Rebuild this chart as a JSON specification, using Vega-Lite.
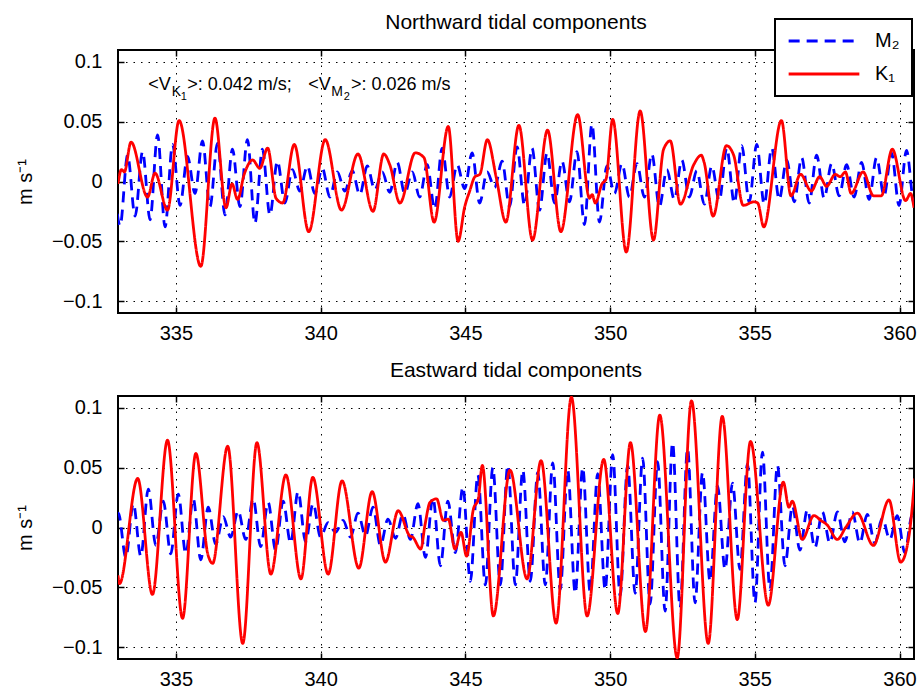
{
"$schema": "https://vega.github.io/schema/vega-lite/v6.json",
"autosize": {"type": "pad"},
"padding": {"left": 14, "top": 11, "right": 0, "bottom": 0},
"background": "white",
"bounds": "flush",
"spacing": 83,
"config": {
  "font": "Liberation Sans",
  "view": {"stroke": "black", "strokeWidth": 2},
  "axis": {"grid": true, "gridColor": "black", "gridDash": [1.5, 6], "gridWidth": 1, "gridOpacity": 1, "domain": false, "ticks": true, "tickSize": -6, "tickColor": "black", "tickWidth": 1.5, "labelFontSize": 20, "labelColor": "black", "labelFont": "Liberation Sans", "titleFont": "Liberation Sans", "titleFontWeight": "normal", "titleFontSize": 20, "titleColor": "black"},
  "legend": {"strokeWidth": 2},
  "title": {"fontSize": 21, "fontWeight": "normal", "font": "Liberation Sans", "color": "black", "offset": 14, "baseline": "alphabetic", "anchor": "middle", "frame": "group"}
},
"resolve": {"legend": {"color": "independent", "strokeDash": "independent"}},
"datasets": {
"north": [
{"s":"M2","t":332.814,"v":0.018},{"s":"M2","t":333.073,"v":-0.037},{"s":"M2","t":333.332,"v":0.022},{"s":"M2","t":333.591,"v":-0.029},{"s":"M2","t":333.849,"v":0.025},{"s":"M2","t":334.108,"v":-0.032},{"s":"M2","t":334.367,"v":0.039},{"s":"M2","t":334.626,"v":-0.038},{"s":"M2","t":334.884,"v":0.031},{"s":"M2","t":335.143,"v":-0.020},{"s":"M2","t":335.402,"v":0.021},{"s":"M2","t":335.661,"v":-0.010},{"s":"M2","t":335.919,"v":0.034},{"s":"M2","t":336.178,"v":-0.021},{"s":"M2","t":336.437,"v":0.032},{"s":"M2","t":336.696,"v":-0.028},{"s":"M2","t":336.954,"v":0.027},{"s":"M2","t":337.213,"v":-0.021},{"s":"M2","t":337.472,"v":0.035},{"s":"M2","t":337.731,"v":-0.035},{"s":"M2","t":337.989,"v":0.027},{"s":"M2","t":338.248,"v":-0.028},{"s":"M2","t":338.507,"v":0.017},{"s":"M2","t":338.766,"v":-0.018},{"s":"M2","t":339.024,"v":0.010},{"s":"M2","t":339.283,"v":-0.008},{"s":"M2","t":339.542,"v":0.013},{"s":"M2","t":339.801,"v":-0.010},{"s":"M2","t":340.059,"v":0.011},{"s":"M2","t":340.318,"v":-0.013},{"s":"M2","t":340.577,"v":0.008},{"s":"M2","t":340.836,"v":-0.008},{"s":"M2","t":341.094,"v":0.009},{"s":"M2","t":341.353,"v":-0.011},{"s":"M2","t":341.612,"v":0.013},{"s":"M2","t":341.871,"v":-0.007},{"s":"M2","t":342.129,"v":0.008},{"s":"M2","t":342.388,"v":-0.009},{"s":"M2","t":342.647,"v":0.016},{"s":"M2","t":342.906,"v":-0.010},{"s":"M2","t":343.164,"v":0.008},{"s":"M2","t":343.423,"v":-0.013},{"s":"M2","t":343.682,"v":0.014},{"s":"M2","t":343.941,"v":-0.023},{"s":"M2","t":344.199,"v":0.028},{"s":"M2","t":344.458,"v":-0.013},{"s":"M2","t":344.717,"v":0.014},{"s":"M2","t":344.976,"v":-0.006},{"s":"M2","t":345.234,"v":0.024},{"s":"M2","t":345.493,"v":-0.018},{"s":"M2","t":345.752,"v":0.008},{"s":"M2","t":346.011,"v":-0.005},{"s":"M2","t":346.269,"v":0.017},{"s":"M2","t":346.528,"v":-0.021},{"s":"M2","t":346.787,"v":0.029},{"s":"M2","t":347.046,"v":-0.020},{"s":"M2","t":347.304,"v":0.028},{"s":"M2","t":347.563,"v":-0.024},{"s":"M2","t":347.822,"v":0.024},{"s":"M2","t":348.081,"v":-0.018},{"s":"M2","t":348.339,"v":0.017},{"s":"M2","t":348.598,"v":-0.017},{"s":"M2","t":348.857,"v":0.025},{"s":"M2","t":349.116,"v":-0.036},{"s":"M2","t":349.374,"v":0.048},{"s":"M2","t":349.633,"v":-0.034},{"s":"M2","t":349.892,"v":0.013},{"s":"M2","t":350.151,"v":-0.010},{"s":"M2","t":350.409,"v":0.015},{"s":"M2","t":350.668,"v":-0.013},{"s":"M2","t":350.927,"v":0.015},{"s":"M2","t":351.186,"v":-0.013},{"s":"M2","t":351.444,"v":0.023},{"s":"M2","t":351.703,"v":-0.021},{"s":"M2","t":351.962,"v":0.010},{"s":"M2","t":352.221,"v":-0.015},{"s":"M2","t":352.479,"v":0.018},{"s":"M2","t":352.738,"v":-0.013},{"s":"M2","t":352.997,"v":0.009},{"s":"M2","t":353.256,"v":-0.019},{"s":"M2","t":353.514,"v":0.013},{"s":"M2","t":353.773,"v":-0.016},{"s":"M2","t":354.032,"v":0.028},{"s":"M2","t":354.291,"v":-0.018},{"s":"M2","t":354.549,"v":0.030},{"s":"M2","t":354.808,"v":-0.017},{"s":"M2","t":355.067,"v":0.031},{"s":"M2","t":355.326,"v":-0.019},{"s":"M2","t":355.584,"v":0.028},{"s":"M2","t":355.843,"v":-0.015},{"s":"M2","t":356.102,"v":0.018},{"s":"M2","t":356.361,"v":-0.017},{"s":"M2","t":356.619,"v":0.020},{"s":"M2","t":356.878,"v":-0.018},{"s":"M2","t":357.137,"v":0.022},{"s":"M2","t":357.396,"v":-0.014},{"s":"M2","t":357.654,"v":0.015},{"s":"M2","t":357.913,"v":-0.012},{"s":"M2","t":358.172,"v":0.014},{"s":"M2","t":358.431,"v":-0.013},{"s":"M2","t":358.689,"v":0.016},{"s":"M2","t":358.948,"v":-0.015},{"s":"M2","t":359.207,"v":0.020},{"s":"M2","t":359.466,"v":-0.012},{"s":"M2","t":359.724,"v":0.024},{"s":"M2","t":359.983,"v":-0.020},{"s":"M2","t":360.242,"v":0.026},{"s":"M2","t":360.501,"v":-0.018},{"s":"M2","t":360.760,"v":0.024},
{"s":"K1","t":333.00,"v":-0.002},{"s":"K1","t":333.12,"v":0.010},{"s":"K1","t":333.22,"v":0.008},{"s":"K1","t":333.45,"v":0.033},{"s":"K1","t":334.02,"v":-0.013},{"s":"K1","t":334.28,"v":0.007},{"s":"K1","t":334.71,"v":-0.024},{"s":"K1","t":335.11,"v":0.051},{"s":"K1","t":335.86,"v":-0.071},{"s":"K1","t":336.35,"v":0.053},{"s":"K1","t":336.73,"v":-0.022},{"s":"K1","t":336.94,"v":-0.002},{"s":"K1","t":337.13,"v":-0.015},{"s":"K1","t":337.36,"v":0.006},{"s":"K1","t":337.65,"v":0.018},{"s":"K1","t":337.90,"v":0.011},{"s":"K1","t":338.17,"v":0.028},{"s":"K1","t":338.46,"v":-0.014},{"s":"K1","t":338.69,"v":-0.018},{"s":"K1","t":339.09,"v":0.031},{"s":"K1","t":339.59,"v":-0.042},{"s":"K1","t":340.16,"v":0.035},{"s":"K1","t":340.72,"v":-0.024},{"s":"K1","t":341.29,"v":0.023},{"s":"K1","t":341.81,"v":-0.025},{"s":"K1","t":342.18,"v":0.023},{"s":"K1","t":342.39,"v":0.014},{"s":"K1","t":342.74,"v":-0.018},{"s":"K1","t":343.27,"v":0.024},{"s":"K1","t":343.57,"v":0.020},{"s":"K1","t":343.92,"v":-0.034},{"s":"K1","t":344.41,"v":0.046},{"s":"K1","t":344.75,"v":-0.050},{"s":"K1","t":344.98,"v":-0.021},{"s":"K1","t":345.15,"v":-0.008},{"s":"K1","t":345.33,"v":0.004},{"s":"K1","t":345.50,"v":0.006},{"s":"K1","t":345.76,"v":0.035},{"s":"K1","t":346.07,"v":0.003},{"s":"K1","t":346.40,"v":-0.034},{"s":"K1","t":346.85,"v":0.047},{"s":"K1","t":347.32,"v":-0.049},{"s":"K1","t":347.84,"v":0.043},{"s":"K1","t":348.30,"v":-0.042},{"s":"K1","t":348.88,"v":0.056},{"s":"K1","t":349.29,"v":-0.014},{"s":"K1","t":349.38,"v":-0.011},{"s":"K1","t":349.49,"v":-0.018},{"s":"K1","t":349.72,"v":-0.002},{"s":"K1","t":349.86,"v":0.002},{"s":"K1","t":350.09,"v":0.052},{"s":"K1","t":350.56,"v":-0.059},{"s":"K1","t":351.04,"v":0.059},{"s":"K1","t":351.50,"v":-0.049},{"s":"K1","t":351.85,"v":0.027},{"s":"K1","t":352.08,"v":0.034},{"s":"K1","t":352.43,"v":-0.019},{"s":"K1","t":352.89,"v":0.014},{"s":"K1","t":353.15,"v":0.022},{"s":"K1","t":353.25,"v":0.016},{"s":"K1","t":353.56,"v":-0.029},{"s":"K1","t":354.02,"v":0.030},{"s":"K1","t":354.27,"v":0.022},{"s":"K1","t":354.60,"v":-0.020},{"s":"K1","t":354.97,"v":-0.017},{"s":"K1","t":355.10,"v":-0.018},{"s":"K1","t":355.31,"v":-0.038},{"s":"K1","t":355.92,"v":0.051},{"s":"K1","t":356.25,"v":-0.012},{"s":"K1","t":356.58,"v":0.006},{"s":"K1","t":356.95,"v":-0.008},{"s":"K1","t":357.24,"v":0.004},{"s":"K1","t":357.48,"v":-0.004},{"s":"K1","t":357.78,"v":0.006},{"s":"K1","t":357.95,"v":0.004},{"s":"K1","t":358.13,"v":0.008},{"s":"K1","t":358.33,"v":-0.010},{"s":"K1","t":358.74,"v":0.008},{"s":"K1","t":359.10,"v":-0.012},{"s":"K1","t":359.37,"v":-0.012},{"s":"K1","t":359.75,"v":0.027},{"s":"K1","t":360.21,"v":-0.016},{"s":"K1","t":360.38,"v":-0.010},{"s":"K1","t":360.50,"v":-0.022}
],
"east": [
{"s":"M2","t":332.753,"v":-0.020},{"s":"M2","t":333.012,"v":0.012},{"s":"M2","t":333.271,"v":-0.025},{"s":"M2","t":333.530,"v":0.020},{"s":"M2","t":333.788,"v":-0.024},{"s":"M2","t":334.047,"v":0.032},{"s":"M2","t":334.306,"v":-0.015},{"s":"M2","t":334.565,"v":0.022},{"s":"M2","t":334.823,"v":-0.022},{"s":"M2","t":335.082,"v":0.028},{"s":"M2","t":335.341,"v":-0.022},{"s":"M2","t":335.600,"v":0.024},{"s":"M2","t":335.858,"v":-0.027},{"s":"M2","t":336.117,"v":0.017},{"s":"M2","t":336.376,"v":-0.014},{"s":"M2","t":336.635,"v":0.009},{"s":"M2","t":336.893,"v":-0.008},{"s":"M2","t":337.152,"v":0.014},{"s":"M2","t":337.411,"v":-0.010},{"s":"M2","t":337.670,"v":0.024},{"s":"M2","t":337.928,"v":-0.016},{"s":"M2","t":338.187,"v":0.021},{"s":"M2","t":338.446,"v":-0.019},{"s":"M2","t":338.705,"v":0.022},{"s":"M2","t":338.963,"v":-0.013},{"s":"M2","t":339.222,"v":0.030},{"s":"M2","t":339.481,"v":-0.012},{"s":"M2","t":339.740,"v":0.020},{"s":"M2","t":339.998,"v":-0.008},{"s":"M2","t":340.257,"v":0.004},{"s":"M2","t":340.516,"v":-0.004},{"s":"M2","t":340.775,"v":0.006},{"s":"M2","t":341.033,"v":-0.008},{"s":"M2","t":341.292,"v":0.012},{"s":"M2","t":341.551,"v":-0.007},{"s":"M2","t":341.810,"v":0.017},{"s":"M2","t":342.068,"v":-0.015},{"s":"M2","t":342.327,"v":0.007},{"s":"M2","t":342.586,"v":-0.009},{"s":"M2","t":342.845,"v":0.011},{"s":"M2","t":343.103,"v":-0.010},{"s":"M2","t":343.362,"v":0.020},{"s":"M2","t":343.621,"v":-0.025},{"s":"M2","t":343.880,"v":0.025},{"s":"M2","t":344.138,"v":-0.032},{"s":"M2","t":344.397,"v":0.022},{"s":"M2","t":344.656,"v":-0.021},{"s":"M2","t":344.915,"v":0.034},{"s":"M2","t":345.173,"v":-0.045},{"s":"M2","t":345.432,"v":0.044},{"s":"M2","t":345.691,"v":-0.048},{"s":"M2","t":345.950,"v":0.050},{"s":"M2","t":346.208,"v":-0.048},{"s":"M2","t":346.467,"v":0.052},{"s":"M2","t":346.726,"v":-0.048},{"s":"M2","t":346.985,"v":0.048},{"s":"M2","t":347.243,"v":-0.045},{"s":"M2","t":347.502,"v":0.046},{"s":"M2","t":347.761,"v":-0.048},{"s":"M2","t":348.020,"v":0.054},{"s":"M2","t":348.278,"v":-0.052},{"s":"M2","t":348.537,"v":0.048},{"s":"M2","t":348.796,"v":-0.055},{"s":"M2","t":349.055,"v":0.050},{"s":"M2","t":349.313,"v":-0.054},{"s":"M2","t":349.572,"v":0.045},{"s":"M2","t":349.831,"v":-0.052},{"s":"M2","t":350.090,"v":0.061},{"s":"M2","t":350.348,"v":-0.057},{"s":"M2","t":350.607,"v":0.052},{"s":"M2","t":350.866,"v":-0.055},{"s":"M2","t":351.125,"v":0.058},{"s":"M2","t":351.383,"v":-0.064},{"s":"M2","t":351.642,"v":0.055},{"s":"M2","t":351.901,"v":-0.070},{"s":"M2","t":352.160,"v":0.071},{"s":"M2","t":352.418,"v":-0.067},{"s":"M2","t":352.677,"v":0.066},{"s":"M2","t":352.936,"v":-0.063},{"s":"M2","t":353.195,"v":0.046},{"s":"M2","t":353.453,"v":-0.045},{"s":"M2","t":353.712,"v":0.035},{"s":"M2","t":353.971,"v":-0.035},{"s":"M2","t":354.230,"v":0.037},{"s":"M2","t":354.488,"v":-0.035},{"s":"M2","t":354.747,"v":0.053},{"s":"M2","t":355.006,"v":-0.063},{"s":"M2","t":355.265,"v":0.063},{"s":"M2","t":355.523,"v":-0.052},{"s":"M2","t":355.782,"v":0.052},{"s":"M2","t":356.041,"v":-0.032},{"s":"M2","t":356.300,"v":0.018},{"s":"M2","t":356.558,"v":-0.019},{"s":"M2","t":356.817,"v":0.015},{"s":"M2","t":357.076,"v":-0.017},{"s":"M2","t":357.335,"v":0.013},{"s":"M2","t":357.593,"v":-0.013},{"s":"M2","t":357.852,"v":0.013},{"s":"M2","t":358.111,"v":-0.012},{"s":"M2","t":358.370,"v":0.013},{"s":"M2","t":358.628,"v":-0.013},{"s":"M2","t":358.887,"v":0.011},{"s":"M2","t":359.146,"v":-0.013},{"s":"M2","t":359.405,"v":0.008},{"s":"M2","t":359.663,"v":-0.010},{"s":"M2","t":359.922,"v":0.010},{"s":"M2","t":360.181,"v":-0.021},{"s":"M2","t":360.440,"v":0.011},{"s":"M2","t":360.699,"v":-0.015},
{"s":"K1","t":333.00,"v":-0.040},{"s":"K1","t":333.05,"v":-0.047},{"s":"K1","t":333.68,"v":0.041},{"s":"K1","t":334.19,"v":-0.056},{"s":"K1","t":334.71,"v":0.073},{"s":"K1","t":335.23,"v":-0.076},{"s":"K1","t":335.69,"v":0.062},{"s":"K1","t":336.10,"v":-0.022},{"s":"K1","t":336.27,"v":-0.030},{"s":"K1","t":336.79,"v":0.068},{"s":"K1","t":337.31,"v":-0.097},{"s":"K1","t":337.80,"v":0.071},{"s":"K1","t":338.28,"v":-0.039},{"s":"K1","t":338.80,"v":0.044},{"s":"K1","t":339.32,"v":-0.043},{"s":"K1","t":339.73,"v":0.042},{"s":"K1","t":340.26,"v":-0.039},{"s":"K1","t":340.74,"v":0.039},{"s":"K1","t":341.32,"v":-0.034},{"s":"K1","t":341.78,"v":0.030},{"s":"K1","t":342.24,"v":-0.029},{"s":"K1","t":342.68,"v":0.014},{"s":"K1","t":343.08,"v":-0.007},{"s":"K1","t":343.18,"v":-0.008},{"s":"K1","t":343.46,"v":-0.018},{"s":"K1","t":343.605,"v":0.002},{"s":"K1","t":343.778,"v":0.021},{"s":"K1","t":344.006,"v":0.024},{"s":"K1","t":344.238,"v":0.006},{"s":"K1","t":344.411,"v":0.007},{"s":"K1","t":344.643,"v":-0.018},{"s":"K1","t":344.850,"v":-0.004},{"s":"K1","t":345.044,"v":-0.024},{"s":"K1","t":345.275,"v":0.015},{"s":"K1","t":345.448,"v":0.024},{"s":"K1","t":345.587,"v":0.052},{"s":"K1","t":345.967,"v":-0.074},{"s":"K1","t":346.544,"v":0.048},{"s":"K1","t":347.132,"v":-0.043},{"s":"K1","t":347.616,"v":0.056},{"s":"K1","t":348.135,"v":-0.080},{"s":"K1","t":348.664,"v":0.109},{"s":"K1","t":349.207,"v":-0.074},{"s":"K1","t":349.781,"v":0.057},{"s":"K1","t":350.265,"v":-0.072},{"s":"K1","t":350.704,"v":0.071},{"s":"K1","t":351.222,"v":-0.087},{"s":"K1","t":351.717,"v":0.094},{"s":"K1","t":352.319,"v":-0.109},{"s":"K1","t":352.813,"v":0.106},{"s":"K1","t":353.391,"v":-0.097},{"s":"K1","t":353.875,"v":0.093},{"s":"K1","t":354.394,"v":-0.077},{"s":"K1","t":354.853,"v":0.072},{"s":"K1","t":355.465,"v":-0.065},{"s":"K1","t":355.984,"v":0.038},{"s":"K1","t":356.178,"v":0.017},{"s":"K1","t":356.295,"v":0.022},{"s":"K1","t":356.641,"v":-0.010},{"s":"K1","t":357.042,"v":0.010},{"s":"K1","t":357.274,"v":0.006},{"s":"K1","t":357.505,"v":0.002},{"s":"K1","t":357.851,"v":-0.010},{"s":"K1","t":358.138,"v":0.000},{"s":"K1","t":358.543,"v":0.012},{"s":"K1","t":359.096,"v":-0.015},{"s":"K1","t":359.635,"v":0.023},{"s":"K1","t":360.040,"v":-0.029},{"s":"K1","t":360.327,"v":-0.007},{"s":"K1","t":360.524,"v":0.041}
]
},
"vconcat": [
{
  "title": {"text": "Northward tidal components", "offset": -15},
  "width": 796, "height": 263,
  "resolve": {"axis": {"x": "independent", "y": "independent"}},
  "layer": [
    {"data": {"name": "north"},
     "mark": {"type": "line", "interpolate": "monotone", "clip": true, "strokeWidth": 2.8},
     "encoding": {
       "x": {"field": "t", "type": "quantitative", "scale": {"domain": [333, 360.5], "nice": false, "zero": false}, "axis": {"values": [335, 340, 345, 350, 355, 360], "labelPadding": 16, "title": null}},
       "y": {"field": "v", "type": "quantitative", "scale": {"domain": [-0.11, 0.11], "nice": false}, "axis": {"values": [-0.1, -0.05, 0, 0.05, 0.1], "format": "~g", "labelPadding": 22, "title": "m s⁻¹", "titlePadding": 16}},
       "color": {"field": "s", "type": "nominal", "scale": {"domain": ["M2", "K1"], "range": ["#0000ff", "#ff0000"]},
         "legend": {"orient": "none", "legendX": 657, "legendY": -31, "title": null, "symbolType": "stroke", "symbolSize": 5000, "clipHeight": 20, "symbolStrokeWidth": 3, "labelFontSize": 20, "labelFont": "Liberation Sans", "labelColor": "black", "labelOffset": 14, "padding": 12, "rowPadding": 13, "fillColor": "white", "strokeColor": "black", "labelExpr": "datum.label == 'M2' ? 'M₂' : 'K₁'"}},
       "strokeDash": {"field": "s", "type": "nominal", "scale": {"domain": ["M2", "K1"], "range": [[11, 7], [1, 0]]},
         "legend": {"orient": "none", "legendX": 657, "legendY": -31, "title": null, "symbolType": "stroke", "symbolSize": 5000, "clipHeight": 20, "symbolStrokeWidth": 3, "labelFontSize": 20, "labelFont": "Liberation Sans", "labelColor": "black", "labelOffset": 14, "padding": 12, "rowPadding": 13, "fillColor": "white", "strokeColor": "black", "labelExpr": "datum.label == 'M2' ? 'M₂' : 'K₁'"}}
     }},
    {"data": {"name": "north"},
     "mark": {"type": "point", "opacity": 0, "clip": true},
     "encoding": {
       "x": {"field": "t", "type": "quantitative", "axis": {"orient": "top", "values": [335, 340, 345, 350, 355, 360], "labels": false, "grid": false, "title": null}},
       "y": {"field": "v", "type": "quantitative", "axis": {"orient": "right", "values": [-0.1, -0.05, 0, 0.05, 0.1], "labels": false, "grid": false, "title": null}}
     }},
    {"data": {"values": [{"t": 334.048, "v": 0.0765, "txt": "<V"}, {"t": 335.39, "v": 0.0765, "txt": ">: 0.042 m/s;"}, {"t": 339.57, "v": 0.0765, "txt": "<V"}, {"t": 341.05, "v": 0.0765, "txt": ">: 0.026 m/s"}]},
     "mark": {"type": "text", "align": "left", "baseline": "alphabetic", "fontSize": 18, "font": "Liberation Sans", "color": "black"},
     "encoding": {"x": {"field": "t", "type": "quantitative", "axis": null}, "y": {"field": "v", "type": "quantitative", "axis": null}, "text": {"field": "txt"}}},
    {"data": {"values": [{"t": 334.857, "v": 0.0714, "txt": "K"}, {"t": 340.365, "v": 0.0714, "txt": "M"}]},
     "mark": {"type": "text", "align": "left", "baseline": "alphabetic", "fontSize": 14, "font": "Liberation Sans", "color": "black"},
     "encoding": {"x": {"field": "t", "type": "quantitative", "axis": null}, "y": {"field": "v", "type": "quantitative", "axis": null}, "text": {"field": "txt"}}},
    {"data": {"values": [{"t": 335.17, "v": 0.0681, "txt": "1"}, {"t": 340.80, "v": 0.0681, "txt": "2"}]},
     "mark": {"type": "text", "align": "left", "baseline": "alphabetic", "fontSize": 11, "font": "Liberation Sans", "color": "black"},
     "encoding": {"x": {"field": "t", "type": "quantitative", "axis": null}, "y": {"field": "v", "type": "quantitative", "axis": null}, "text": {"field": "txt"}}}
  ]
},
{
  "title": {"text": "Eastward tidal components"},
  "width": 796, "height": 263,
  "resolve": {"axis": {"x": "independent", "y": "independent"}},
  "layer": [
    {"data": {"name": "east"},
     "mark": {"type": "line", "interpolate": "monotone", "clip": true, "strokeWidth": 2.8},
     "encoding": {
       "x": {"field": "t", "type": "quantitative", "scale": {"domain": [333, 360.5], "nice": false, "zero": false}, "axis": {"values": [335, 340, 345, 350, 355, 360], "labelPadding": 16, "title": null}},
       "y": {"field": "v", "type": "quantitative", "scale": {"domain": [-0.11, 0.11], "nice": false}, "axis": {"values": [-0.1, -0.05, 0, 0.05, 0.1], "format": "~g", "labelPadding": 22, "title": "m s⁻¹", "titlePadding": 16}},
       "color": {"field": "s", "type": "nominal", "scale": {"domain": ["M2", "K1"], "range": ["#0000ff", "#ff0000"]}, "legend": null},
       "strokeDash": {"field": "s", "type": "nominal", "scale": {"domain": ["M2", "K1"], "range": [[11, 7], [1, 0]]}, "legend": null}
     }},
    {"data": {"name": "east"},
     "mark": {"type": "point", "opacity": 0, "clip": true},
     "encoding": {
       "x": {"field": "t", "type": "quantitative", "axis": {"orient": "top", "values": [335, 340, 345, 350, 355, 360], "labels": false, "grid": false, "title": null}},
       "y": {"field": "v", "type": "quantitative", "axis": {"orient": "right", "values": [-0.1, -0.05, 0, 0.05, 0.1], "labels": false, "grid": false, "title": null}}
     }}
  ]
}
]
}
